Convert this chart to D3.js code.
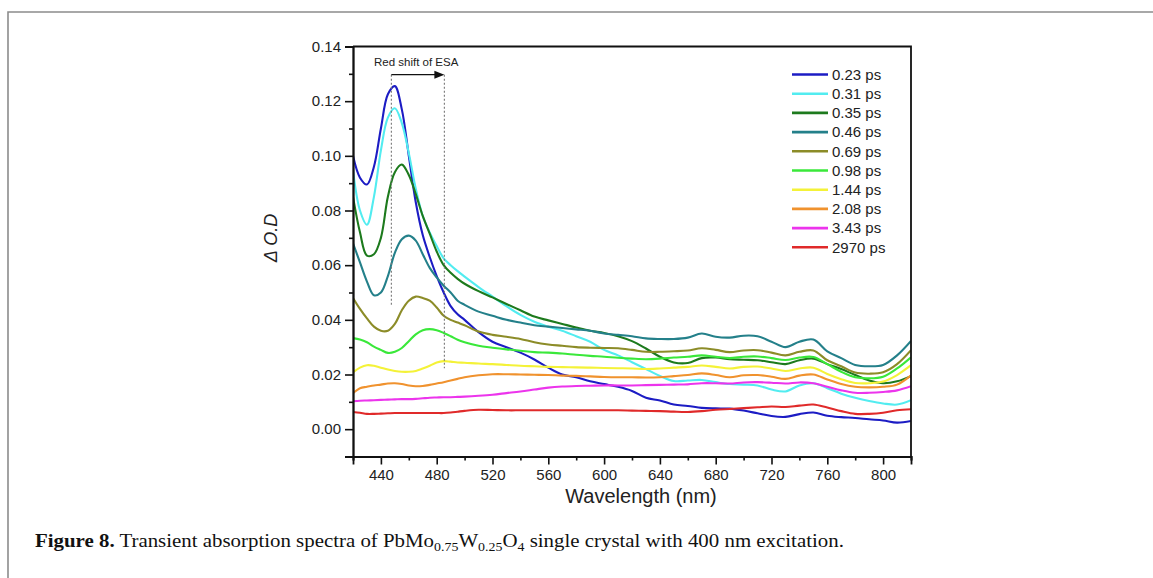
<!DOCTYPE html>
<html>
<head>
<meta charset="utf-8">
<script src="https://cdn.jsdelivr.net/npm/d3@7/dist/d3.min.js"></script>
<style>
  html, body { margin: 0; padding: 0; background: #fff; }
  svg { display: block; }
</style>
</head>
<body>
<svg id="chart" width="1153" height="578"></svg>
<script>
// Wavelength grid (nm) shared by all spectra
const wavelengths = [420,425,430,435,440,445,450,455,460,465,470,475,480,485,490,495,
  500,510,520,530,540,550,560,570,580,590,600,610,620,630,640,650,660,670,680,690,
  700,710,720,730,740,750,760,770,780,790,800,810,820];

// Delay times shown in the legend
const delays = ["0.23 ps","0.31 ps","0.35 ps","0.46 ps","0.69 ps","0.98 ps","1.44 ps","2.08 ps","3.43 ps","2970 ps"];
const colors = ["#1c1cc4","#52ecf0","#1d7a1d","#24808a","#8c8c28","#3ae83a","#f4f238","#f0922e","#ec34ec","#e02a2a"];

// ΔO.D spectra, one array per delay
const od023 = [.100,.092,.0895,.096,.110,.1225,.1255,.117,.100,.083,.071,.063,.056,.050,.045,.042,
  .040,.0355,.032,.030,.028,.0255,.0225,.020,.019,.0175,.0165,.0155,.014,.0115,.0105,.009,.0085,.0078,.0076,.0075,
  .0068,.0058,.0048,.0045,.0055,.0061,.0049,.0044,.0041,.0036,.0032,.0024,.003];
const od031 = [.0947,.080,.0748,.085,.102,.114,.1174,.112,.101,.088,.078,.072,.067,.0625,.060,.0578,
  .0558,.052,.0485,.045,.0418,.0393,.0375,.036,.034,.032,.029,.027,.0245,.022,.0195,.0176,.0178,.018,.0172,.0165,
  .0163,.016,.0145,.0138,.016,.0168,.015,.013,.0115,.0103,.0094,.009,.0106];
const od035 = [.085,.072,.0635,.064,.070,.085,.094,.0968,.093,.086,.078,.0715,.065,.060,.0572,.055,
  .0532,.0505,.0482,.0458,.0435,.0412,.0398,.0385,.0372,.036,.0352,.034,.0322,.0295,.0265,.0244,.0242,.026,.0262,.0256,
  .0254,.0252,.0245,.0238,.0252,.0258,.0238,.022,.0198,.0178,.0168,.0175,.0194];
const od046 = [.068,.061,.054,.049,.050,.056,.0645,.0695,.0708,.069,.064,.059,.0555,.0525,.050,.047,
  .0455,.043,.0415,.040,.039,.038,.0375,.037,.0365,.036,.035,.0345,.034,.0332,.033,.033,.0335,.035,.0338,.0335,
  .0342,.034,.032,.030,.032,.0328,.0285,.026,.0235,.023,.0235,.027,.0323];
const od069 = [.048,.044,.0405,.0375,.036,.036,.0385,.0435,.047,.0485,.048,.047,.0445,.0415,.040,.039,
  .038,.0357,.0345,.0338,.033,.0318,.031,.0305,.030,.0298,.0297,.0296,.029,.0283,.0283,.0285,.0288,.0296,.029,.0282,
  .0288,.0289,.028,.027,.0283,.0288,.0252,.023,.0207,.0203,.0208,.0238,.0289];
const od098 = [.0333,.0328,.0318,.0302,.029,.0279,.0283,.0297,.0322,.0347,.0362,.0366,.0362,.0352,.034,.0327,
  .0318,.0305,.0298,.0292,.0287,.0282,.028,.0277,.0272,.0268,.0265,.0261,.0258,.0256,.0258,.0262,.0265,.027,.0265,.026,
  .0265,.0266,.026,.0253,.0262,.0264,.0238,.021,.019,.0186,.0192,.0222,.0263];
const od144 = [.0208,.0225,.0234,.0232,.0225,.0218,.0213,.021,.021,.0213,.0222,.0232,.0244,.0249,.0247,.0244,
  .0243,.024,.0238,.0235,.0232,.023,.0228,.0227,.0226,.0225,.0224,.0223,.0222,.022,.0222,.0225,.0228,.0233,.0228,.0222,
  .0228,.0229,.0222,.0213,.0222,.0225,.0202,.0183,.0169,.0168,.0174,.0198,.0234];
const od208 = [.0132,.015,.0155,.016,.0163,.0167,.0168,.0165,.016,.0157,.0158,.0162,.0167,.0172,.0178,.0184,
  .019,.0197,.0201,.0201,.020,.0199,.0198,.0196,.0195,.0193,.0191,.019,.019,.0189,.019,.0194,.0198,.0204,.0198,.019,
  .0197,.0198,.0192,.0184,.0196,.020,.0182,.0165,.0155,.0153,.0155,.0163,.0197];
const od343 = [.0102,.0104,.0105,.0106,.0107,.0108,.0109,.011,.011,.0111,.0113,.0115,.0116,.0117,.0117,.0118,
  .0119,.0122,.0126,.0132,.0138,.0145,.0152,.0156,.0158,.0159,.016,.016,.016,.0161,.0162,.0163,.0164,.0168,.0168,.0167,
  .0171,.0172,.017,.0167,.0171,.0168,.0155,.0142,.0133,.0133,.0136,.0142,.0157];
const od2970 = [.0063,.006,.0056,.0056,.0057,.0058,.0059,.0059,.0059,.0059,.0059,.0059,.0059,.0059,.0061,.0064,
  .0067,.0071,.007,.0069,.0069,.0069,.0069,.0069,.0069,.0069,.0069,.0069,.0068,.0067,.0066,.0064,.0063,.0066,.0071,.0074,
  .0077,.008,.0083,.0081,.0086,.009,.0079,.0066,.0056,.0056,.006,.0069,.0073];

const spectra = [od023, od031, od035, od046, od069, od098, od144, od208, od343, od2970];

// Axis ticks
const xMajor = [440,480,520,560,600,640,680,720,760,800];
const xMinor = [420,460,500,540,580,620,660,700,740,780,820];
const yMajor = [0.00,0.02,0.04,0.06,0.08,0.10,0.12,0.14];
const yMinor = [-0.01,0.01,0.03,0.05,0.07,0.09,0.11,0.13];

// ESA peak shift marker: start and end wavelengths
const shiftFrom = 447.5, shiftTo = 485.5;

const svg = d3.select("#chart");
const W = 1153, H = 578;

// Outer frame of the figure panel
svg.append("path")
  .attr("d", `M8,${H + 5} L8,12 L${W + 5},12`)
  .attr("fill", "none").attr("stroke", "#8c8c8c").attr("stroke-width", 1.6);

const x = d3.scaleLinear().domain([420, 820]).range([353, 911]);
const y = d3.scaleLinear().domain([-0.01, 0.14]).range([456.5, 46.5]);

const font = "Arial, 'Liberation Sans', sans-serif";

// Spectra
const line = d3.line()
  .x((d, i) => x(wavelengths[i]))
  .y(d => y(d))
  .curve(d3.curveCatmullRom.alpha(0.5));

const plot = svg.append("g");
plot.append("defs").append("clipPath").attr("id", "clip")
  .append("rect").attr("x", x(420)).attr("y", y(0.14)).attr("width", x(820) - x(420)).attr("height", y(-0.01) - y(0.14));

plot.append("g").attr("clip-path", "url(#clip)")
  .selectAll("path").data(spectra).join("path")
  .attr("d", d => line(d))
  .attr("fill", "none")
  .attr("stroke", (d, i) => colors[i])
  .attr("stroke-width", 2.1)
  .attr("stroke-linejoin", "round");

// Axes
svg.append("g").attr("transform", `translate(0,${y(-0.01)})`)
  .call(d3.axisBottom(x).tickValues(xMajor).tickSize(8).tickPadding(5).tickFormat(d3.format("d")));
svg.append("g").attr("transform", `translate(0,${y(-0.01)})`)
  .call(d3.axisBottom(x).tickValues(xMinor).tickSize(4).tickFormat(""));
svg.append("g").attr("transform", `translate(${x(420)},0)`)
  .call(d3.axisLeft(y).tickValues(yMajor).tickSize(8).tickPadding(4).tickFormat(d3.format(".2f")));
svg.append("g").attr("transform", `translate(${x(420)},0)`)
  .call(d3.axisLeft(y).tickValues(yMinor).tickSize(4).tickFormat(""));

svg.selectAll(".domain").attr("stroke", "#111").attr("stroke-width", 1.8);
svg.selectAll(".tick line").attr("stroke", "#111").attr("stroke-width", 1.6);
svg.selectAll(".tick text").attr("font-family", font).attr("font-size", 15).attr("fill", "#222");

// Top and right frame of the plot box
svg.append("path")
  .attr("d", `M${x(420)},${y(0.14)} L${x(820)},${y(0.14)} L${x(820)},${y(-0.01)}`)
  .attr("fill", "none").attr("stroke", "#111").attr("stroke-width", 1.8);

// Axis titles
svg.append("text")
  .attr("x", 641).attr("y", 503)
  .attr("text-anchor", "middle")
  .attr("font-family", font).attr("font-size", 20).attr("fill", "#222")
  .text("Wavelength (nm)");

svg.append("text")
  .attr("transform", "translate(277,238) rotate(-90)")
  .attr("text-anchor", "middle")
  .attr("font-family", font).attr("font-size", 18).attr("font-style", "italic").attr("fill", "#222")
  .text("\u0394 O.D");

// Red-shift annotation
const ann = svg.append("g");
ann.selectAll("line.guide").data([[shiftFrom, 0.0453], [shiftTo, 0.0223]]).join("line")
  .attr("class", "guide")
  .attr("x1", d => x(d[0])).attr("x2", d => x(d[0]))
  .attr("y1", y(0.1297)).attr("y2", d => y(d[1]))
  .attr("stroke", "#777").attr("stroke-width", 1.1).attr("stroke-dasharray", "2,2");
ann.append("line")
  .attr("x1", x(shiftFrom)).attr("x2", x(shiftTo) - 8)
  .attr("y1", y(0.1297)).attr("y2", y(0.1297))
  .attr("stroke", "#111").attr("stroke-width", 1.3);
ann.append("path")
  .attr("d", `M${x(shiftTo)},${y(0.1297)} l-10,-4 l0,8 z`)
  .attr("fill", "#111");
ann.append("text")
  .attr("x", 374).attr("y", 66)
  .attr("font-family", font).attr("font-size", 11.5).attr("fill", "#222")
  .text("Red shift of ESA");

// Legend
const legend = svg.append("g").selectAll("g").data(delays).join("g")
  .attr("transform", (d, i) => `translate(792,${74.5 + i * 19.2})`);
legend.append("line")
  .attr("x1", 0).attr("x2", 36).attr("y1", 0).attr("y2", 0)
  .attr("stroke", (d, i) => colors[i]).attr("stroke-width", 2.6);
legend.append("text")
  .attr("x", 40).attr("y", 5.2)
  .attr("font-family", font).attr("font-size", 15).attr("fill", "#222")
  .text(d => d);

// Caption (set in a wide serif, so stretched horizontally)
const cap = svg.append("text")
  .attr("transform", "translate(35,547) scale(1.16,1)")
  .attr("font-family", "'Liberation Serif', 'DejaVu Serif', serif")
  .attr("font-size", 18).attr("fill", "#111");
cap.append("tspan").attr("font-weight", "bold").text("Figure 8.");
cap.append("tspan").text(" Transient absorption spectra of PbMo");
cap.append("tspan").attr("font-size", 12).attr("dy", 4).text("0.75");
cap.append("tspan").attr("dy", -4).text("W");
cap.append("tspan").attr("font-size", 12).attr("dy", 4).text("0.25");
cap.append("tspan").attr("dy", -4).text("O");
cap.append("tspan").attr("font-size", 12).attr("dy", 4).text("4");
cap.append("tspan").attr("dy", -4).text(" single crystal with 400 nm excitation.");
</script>
</body>
</html>
